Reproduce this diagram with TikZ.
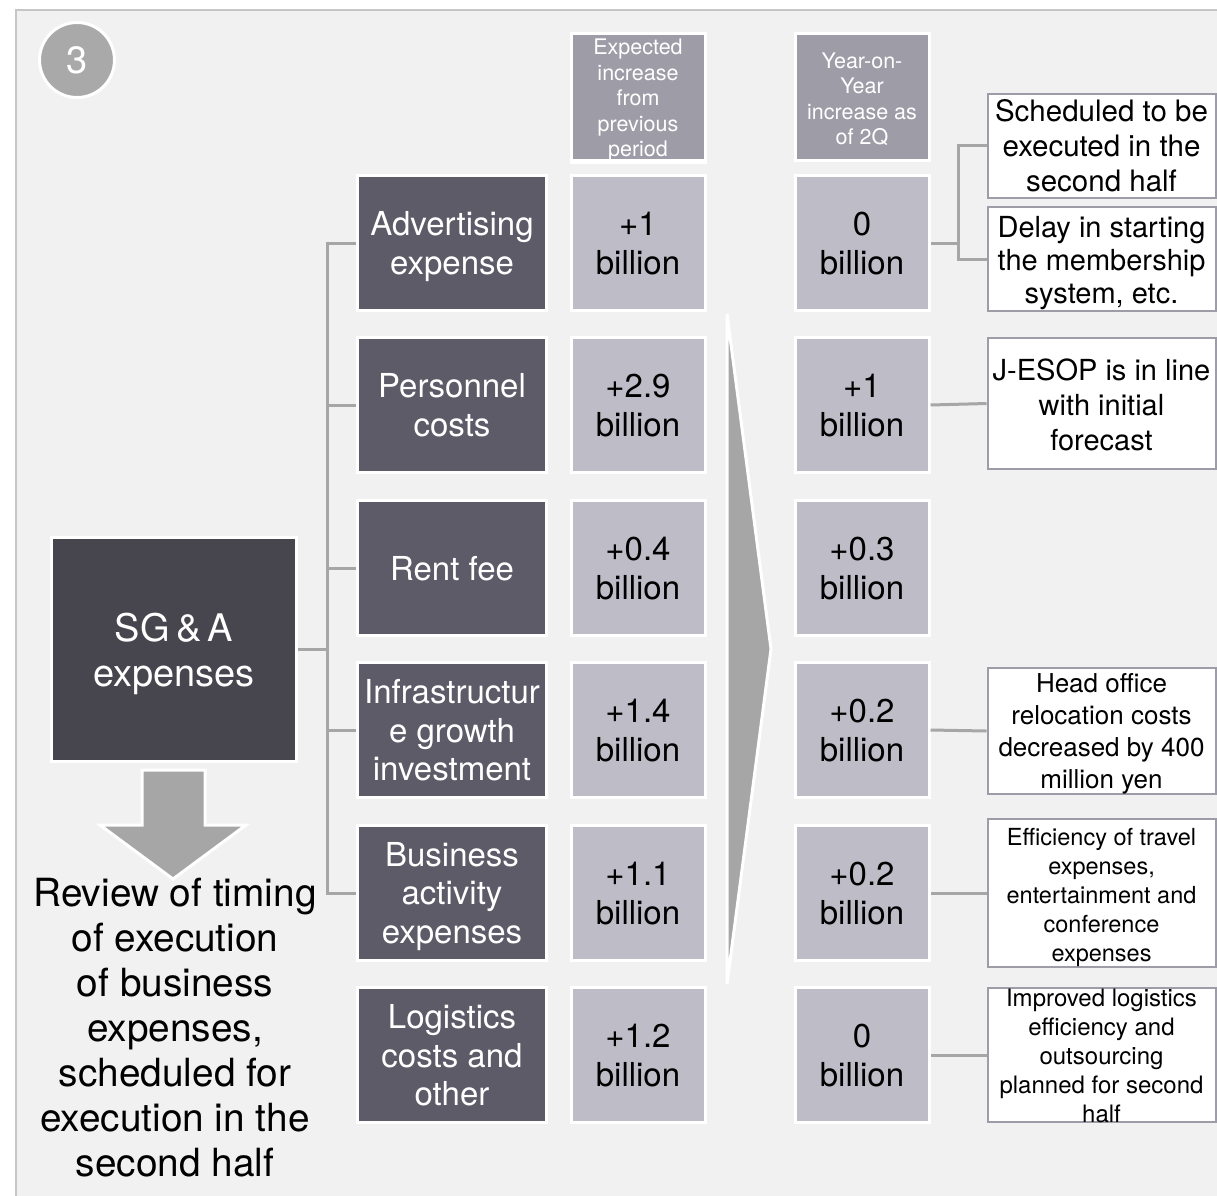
\documentclass[tikz,border=0pt]{standalone}
\usepackage{fontspec}
\setmainfont{TeX Gyre Heros}
\definecolor{pagebg}{HTML}{F1F1F1}
\definecolor{framecol}{HTML}{C6C6C6}
\definecolor{badge}{HTML}{A9A9A9}
\definecolor{headfill}{HTML}{9E9CA7}
\definecolor{valfill}{HTML}{BEBCC7}
\definecolor{catfill}{HTML}{5D5B68}
\definecolor{rootfill}{HTML}{47464F}
\definecolor{wire}{HTML}{A6A6A6}
\definecolor{noteedge}{HTML}{9E9CA7}
% first-line strut: keeps the capitals of each tile centred vertically
\newcommand{\firstline}{\rule{0pt}{31pt}}
\tikzset{
  tile/.style={rectangle, draw=white, line width=3pt, inner sep=0pt, align=center},
  evenlines/.style={execute at end node={\rule[-7pt]{0pt}{7pt}}},
  catbox/.style={tile, evenlines, fill=catfill, text=white, minimum width=189pt, minimum height=135pt,
    font=\fontsize{33}{38.5}\selectfont},
  valbox/.style={tile, evenlines, fill=valfill, text=black, minimum width=134pt, minimum height=135pt,
    font=\fontsize{33}{38.5}\selectfont},
  headbox/.style={tile, fill=headfill, minimum width=134pt, minimum height=127pt},
  headtext/.style={text=white, align=center, inner sep=0pt, font=\fontsize{21.5}{25.5}\selectfont},
  notebox/.style={rectangle, draw=noteedge, line width=2pt, fill=white, minimum width=228pt, inner sep=0pt},
  notetext/.style={align=center, inner sep=0pt, text=black},
  wireline/.style={draw=wire, line width=3pt},
  bigarrow/.style={fill=wire, draw=white, line width=3pt, line join=miter}
}
\begin{document}
\begin{tikzpicture}[x=1pt, y=-1pt]
\useasboundingbox (0,0) rectangle (1217,1195);
\clip (0,0) rectangle (1217,1195);
\fill[white] (0,0) rectangle (1217,1195);
% panel
\fill[pagebg] (16,10) rectangle (1230,1205);
\draw[framecol, line width=2pt] (16,1205) -- (16,10) -- (1230,10);

% number badge
\node[circle, fill=badge, draw=white, line width=3pt, minimum size=75pt, inner sep=0pt,
  text=white, font=\fontsize{38}{38}\selectfont] (badge) at (77,60) {3};

% column headers
\node[headbox] (h1) at (638,97) {};
\node[headtext] (h1t) at (638,100) {Expected\\increase\\from\\previous\\period};
\node[headbox] (h2) at (862,97) {};
\node[headtext] (h2t) at (862,99) {Year-on-\\Year\\increase as\\of 2Q};
\draw[white, line width=3pt] (h1.south west) -- (h1.south east);

% root box
\node[tile, fill=rootfill, text=white, minimum width=245pt, minimum height=224pt,
  font=\fontsize{38}{45}\selectfont] (root) at (174,649) {\rule{0pt}{38pt}SG\,\&\,A\\expenses};

% down arrow and its caption
\draw[bigarrow] (142,770) -- (205,770) -- (205,825) -- (246,825) -- (173,879)
  -- (100,825) -- (142,825) -- cycle;
\node[align=center, inner sep=0pt, font=\fontsize{38.8}{45}\selectfont] (review) at (175,1028)
  {Review of timing\\of execution\\of business\\expenses,\\scheduled for\\execution in the\\second half};

% category boxes
\node[catbox] (c1) at (452,243) {\firstline Advertising\\expense};
\node[catbox] (c2) at (452,405) {\firstline Personnel\\costs};
\node[catbox] (c3) at (452,568) {\firstline Rent fee};
\node[catbox] (c4) at (452,730) {\firstline Infrastructur\\e growth\\investment};
\node[catbox] (c5) at (452,893) {\firstline Business\\activity\\expenses};
\node[catbox] (c6) at (452,1055) {\firstline Logistics\\costs and\\other};

% expected increase values
\node[valbox] (v1) at (638,243) {\firstline +1\\billion};
\node[valbox] (v2) at (638,405) {\firstline +2.9\\billion};
\node[valbox] (v3) at (638,568) {\firstline +0.4\\billion};
\node[valbox] (v4) at (638,730) {\firstline +1.4\\billion};
\node[valbox] (v5) at (638,893) {\firstline +1.1\\billion};
\node[valbox] (v6) at (638,1055) {\firstline +1.2\\billion};

% year-on-year values
\node[valbox] (y1) at (862,243) {\firstline 0\\billion};
\node[valbox] (y2) at (862,405) {\firstline +1\\billion};
\node[valbox] (y3) at (862,568) {\firstline +0.3\\billion};
\node[valbox] (y4) at (862,730) {\firstline +0.2\\billion};
\node[valbox] (y5) at (862,893) {\firstline +0.2\\billion};
\node[valbox] (y6) at (862,1055) {\firstline 0\\billion};

% chevron between the value columns
\draw[bigarrow] (727,314) -- (771,649) -- (727,984) -- cycle;

% tree from the root box
\coordinate (trunk) at (327,649);
\draw[wireline] (root.east) -- (trunk);
\draw[wireline] (trunk) |- (c1.west);
\draw[wireline] (trunk) |- (c2.west);
\draw[wireline] (trunk) |- (c3.west);
\draw[wireline] (trunk) |- (c4.west);
\draw[wireline] (trunk) |- (c5.west);

% notes
\node[notebox, minimum height=104pt] (n1) at (1101.5,145.5) {};
\node[notetext, font=\fontsize{29.5}{35}\selectfont] (n1t) at (1101.5,145.5) {Scheduled to be\\executed in the\\second half};
\node[notebox, minimum height=104pt] (n2) at (1101.5,259) {};
\node[notetext, font=\fontsize{29}{33}\selectfont] (n2t) at (1101.5,263) {Delay in starting\\the membership\\system, etc.};
\node[notebox, minimum height=131pt] (n3) at (1101.5,403.5) {};
\node[notetext, font=\fontsize{29}{35}\selectfont] (n3t) at (1101.5,405) {J-ESOP is in line\\with initial\\forecast};
\node[notebox, minimum height=126pt] (n4) at (1101.5,731) {};
\node[notetext, font=\fontsize{26}{32}\selectfont] (n4t) at (1101.5,734) {Head office\\relocation costs\\decreased by 400\\million yen};
\node[notebox, minimum height=148pt] (n5) at (1101.5,893) {};
\node[notetext, font=\fontsize{23.5}{29}\selectfont] (n5t) at (1101.5,897) {Efficiency of travel\\expenses,\\entertainment and\\conference\\expenses};
\node[notebox, minimum height=134pt] (n6) at (1101.5,1055) {};
\node[notetext, font=\fontsize{24}{29}\selectfont] (n6t) at (1101.5,1056) {Improved logistics\\efficiency and\\outsourcing\\planned for second\\half};

% note connectors
\coordinate (fork) at (958,243);
\draw[wireline] (y1.east) -- (fork);
\draw[wireline] (fork) |- (n1.west);
\draw[wireline] (fork) |- (n2.west);
\draw[wireline] (y2.east) -- (n3.west);
\draw[wireline] (y4.east) -- (n4.west);
\draw[wireline] (y5.east) -- (n5.west);
\draw[wireline] (y6.east) -- (n6.west);
\end{tikzpicture}
\end{document}
